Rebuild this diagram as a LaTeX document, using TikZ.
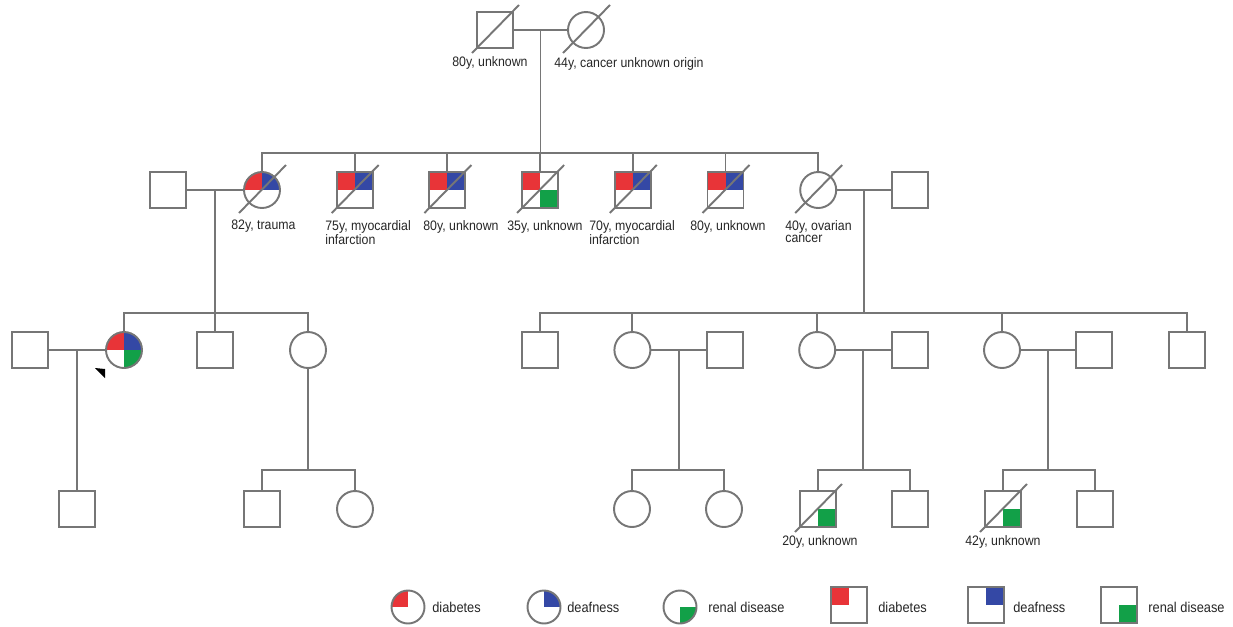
\documentclass[tikz,border=0pt]{standalone}
\usepackage{fontspec}
\setmainfont{Liberation Sans}[FakeStretch=0.9]
\usetikzlibrary{calc}
\definecolor{pgrey}{RGB}{118,118,118}
\definecolor{dred}{RGB}{232,52,56}
\definecolor{dblue}{RGB}{52,72,165}
\definecolor{rgreen}{RGB}{18,160,72}
\tikzset{
 ped/.style={draw=pgrey,line width=1.1pt,minimum size=.72cm,inner sep=0pt},
 male/.style={ped,rectangle},
 female/.style={ped,circle},
 aff/.style={path picture={\foreach \a/\c in {#1}
   \fill[\c] (path picture bounding box.center) rectangle (path picture bounding box.\a);}},
 lbl/.style={anchor=north west,align=left,inner sep=0pt,
   font=\fontsize{7.8}{6.9}\selectfont,text=black!85},
 leg/.style={anchor=west,inner sep=0pt,font=\fontsize{8.1}{9}\selectfont,text=black!85}
}
\begin{document}
\begin{tikzpicture}[x=.02cm,y=-.02cm]
 \useasboundingbox (0,0) rectangle (1233,626);
 % generation I
 \path
 (495,30) node[male](I1){}
 ++(91,0) node[female](I2){};
 % generation II
 \path
 (168,190) node[male](II1){}
 ++(94,0) node[female,aff={north west/dred,north east/dblue}](II2){}
 ++(92.7,0) node[male,aff={north west/dred,north east/dblue}](II3){}
 ++(92.7,0) node[male,aff={north west/dred,north east/dblue}](II4){}
 ++(92.7,0) node[male,aff={north west/dred,south east/rgreen}](II5){}
 ++(92.7,0) node[male,aff={north west/dred,north east/dblue}](II6){}
 ++(92.7,0) node[male,aff={north west/dred,north east/dblue}](II7){}
 ++(92.7,0) node[female](II8){}
 ++(92,0) node[male](II9){};
 % generation III
 \path
 (30,350) node[male](III1){}
 ++(94,0) node[female,aff={north west/dred,north east/dblue,south east/rgreen}](III2){}
 ++(91,0) node[male](III3){}
 ++(93,0) node[female](III4){};
 \path
 (540,350) node[male](III5){}
 ++(92.4,0) node[female](III6){}
 ++(92.4,0) node[male](III7){}
 ++(92.4,0) node[female](III8){}
 ++(92.4,0) node[male](III9){}
 ++(92.4,0) node[female](III10){}
 ++(92.4,0) node[male](III11){}
 ++(92.4,0) node[male](III12){};
 % generation IV
 \path
 (77,509) node[male](IV1){}
 (262,509) node[male](IV2){}
 ++(93,0) node[female](IV3){}
 (632,509) node[female](IV4){}
 ++(92,0) node[female](IV5){}
 (818,509) node[male,aff={south east/rgreen}](IV6){}
 ++(92,0) node[male](IV7){}
 (1003,509) node[male,aff={south east/rgreen}](IV8){}
 ++(92,0) node[male](IV9){};
 % labels
 \node[lbl] (tI1) at (452,56) {80y, unknown};
 \node[lbl] (tI2) at (554,57) {44y, cancer unknown origin};
 \node[lbl] (tII2) at (231,220) {82y, trauma};
 \node[lbl] (tII3) at (325,220) {75y, myocardial\\infarction};
 \node[lbl] (tII4) at (423,220) {80y, unknown};
 \node[lbl] (tII5) at (507,220) {35y, unknown};
 \node[lbl] (tII6) at (589,220) {70y, myocardial\\infarction};
 \node[lbl] (tII7) at (690,220) {80y, unknown};
 \node[lbl] (tII8) at (785,220) {40y, ovarian\\cancer};
 \node[lbl] (tIV6) at (782,535) {20y, unknown};
 \node[lbl] (tIV8) at (965,535) {42y, unknown};
 % lines of descent
 \begin{scope}[draw=pgrey,line width=1.1pt]
 \coordinate (mI) at ($(I1)!.5!(I2)$);
 \coordinate (sII) at (mI |- 0,153);
 \draw (I1)--(I2) (mI)--(sII);
 \foreach \c in {II2,II3,II4,II5,II6,II7,II8} \draw (sII) -| (\c);
 \coordinate (mII1) at ($(II1)!.5!(II2)$);
 \coordinate (sIII1) at (mII1 |- 0,313);
 \draw (II1)--(II2) (mII1)--(sIII1);
 \foreach \c in {III2,III3,III4} \draw (sIII1) -| (\c);
 \coordinate (mII2) at ($(II8)!.5!(II9)$);
 \coordinate (sIII2) at (mII2 |- 0,313);
 \draw (II8)--(II9) (mII2)--(sIII2);
 \foreach \c in {III5,III6,III8,III10,III12} \draw (sIII2) -| (\c);
 \coordinate (mIII1) at ($(III1)!.5!(III2)$);
 \draw (III1)--(III2) (mIII1)--(IV1);
 \coordinate (sIV1) at (III4 |- 0,470);
 \draw (III4)--(sIV1);
 \foreach \c in {IV2,IV3} \draw (sIV1) -| (\c);
 \foreach \l/\r/\a/\b [count=\i from 2] in {III6/III7/IV4/IV5,III8/III9/IV6/IV7,III10/III11/IV8/IV9}{
   \coordinate (mIII\i) at ($(\l)!.5!(\r)$);
   \coordinate (sIV\i) at (mIII\i |- 0,470);
   \draw (\l)--(\r) (mIII\i)--(sIV\i);
   \draw (sIV\i) -| (\a);
   \draw (sIV\i) -| (\b);
 }
 % deceased
 \foreach \n in {I1,I2,II2,II3,II4,II5,II6,II7,II8,IV6,IV8}
   \draw (\n.center) ++(-23,23) -- ++(47,-48);
 \end{scope}
 % proband
 \fill (III2.center) ++(-29,18) -- ++(10,1) -- ++(0,9) -- cycle;
 % legend
 \path
 (408,607) node[female,minimum size=.66cm,aff={north west/dred}](LC1){}
 (432,607) node[leg]{diabetes}
 (544,607) node[female,minimum size=.66cm,aff={north east/dblue}](LC2){}
 (567,607) node[leg]{deafness}
 (680,607) node[female,minimum size=.66cm,aff={south east/rgreen}](LC3){}
 (708,607) node[leg]{renal disease}
 (849,605) node[male,aff={north west/dred}](LS1){}
 (878,607) node[leg]{diabetes}
 (986,605) node[male,aff={north east/dblue}](LS2){}
 (1013,607) node[leg]{deafness}
 (1119,605) node[male,aff={south east/rgreen}](LS3){}
 (1148,607) node[leg]{renal disease};
\end{tikzpicture}
\end{document}
